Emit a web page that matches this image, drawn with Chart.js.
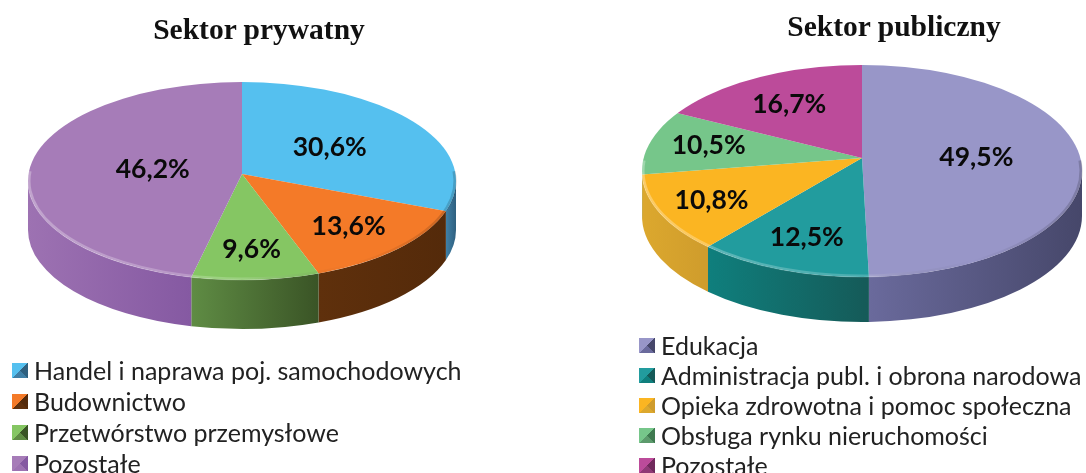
<!DOCTYPE html>
<html lang="pl">
<head>
<meta charset="utf-8">
<title>Sektor prywatny i publiczny</title>
<script src="https://cdn.jsdelivr.net/npm/chart.js@4/dist/chart.umd.min.js"></script>
<style>
    html, body { margin: 0; padding: 0; background: #fff; overflow: hidden; }
    #page { position: relative; width: 1086px; height: 473px; overflow: hidden; }
    canvas { position: absolute; top: 0; }
    .title { position: absolute; font: bold 29.5px "Liberation Serif", serif; color: #111; white-space: nowrap; transform: translateX(-50%); }
    .legend { position: absolute; font: 25px Lato, sans-serif; color: #222; white-space: nowrap; }
    .legend div { position: relative; padding-left: 22px; }
    .legend i { position: absolute; left: 0; top: 8px; width: 16px; height: 15px; }
</style>
</head>
<body>
<div id="page">
    <canvas id="privateChart" width="543" height="473" style="left:0"></canvas>
    <canvas id="publicChart" width="543" height="473" style="left:543px"></canvas>
</div>
<script>
// Sektor prywatny
const privateTitle = 'Sektor prywatny';
const privateLabels = ['Handel i naprawa poj. samochodowych', 'Budownictwo', 'Przetwórstwo przemysłowe', 'Pozostałe'];
const privateValues = [30.6, 13.6, 9.6, 46.2];
const privateColors = ['#55c0ef', '#f47a28', '#85c663', '#a67cb8'];
const privateWalls = [['#3f7fa6', '#2f607f'], ['#5f300c', '#542a0a'], ['#5f8c44', '#3a5426'], ['#9d72b2', '#8559a2']];

// Sektor publiczny
const publicTitle = 'Sektor publiczny';
const publicLabels = ['Edukacja', 'Administracja publ. i obrona narodowa', 'Opieka zdrowotna i pomoc społeczna', 'Obsługa rynku nieruchomości', 'Pozostałe'];
const publicValues = [49.5, 12.5, 10.8, 10.5, 16.7];
const publicColors = ['#9896c8', '#229c9e', '#fbb522', '#76c68a', '#bc4b9a'];
const publicWalls = [['#6a6a9c', '#46476a'], ['#0f7f7d', '#155a58'], ['#dca82e', '#cf9c2c'], ['#5c9a6c', '#3f7a50'], ['#8f3a76', '#702a5c']];

function formatValue(v) {
    return v.toFixed(1).replace('.', ',') + '%';
}

// where a slice edge at canvas angle a meets the rim of the top ellipse
function rimAngle(a, s) {
    const dx = Math.cos(a);
    const dy = Math.sin(a) * (Math.sin(a) < 0 ? s.kTop : s.kBottom);
    const oy = s.apexY - s.ellipseY;
    const A = dx * dx / (s.r * s.r) + dy * dy / (s.ry * s.ry);
    const B = 2 * oy * dy / (s.ry * s.ry);
    const C = oy * oy / (s.ry * s.ry) - 1;
    const d = (-B + Math.sqrt(B * B - 4 * A * C)) / (2 * A);
    let t = Math.atan2((oy + d * dy) / s.ry, d * dx / s.r);
    if (t < -Math.PI / 2) t += Math.PI * 2;
    return t;
}

function drawWalls(ctx, arcs, s, cx) {
    arcs.forEach((arc, i) => {
        const t0 = Math.max(rimAngle(arc.startAngle, s), 0);
        const t1 = Math.min(rimAngle(arc.endAngle, s), Math.PI);
        if (t1 <= t0) return;
        const x0 = cx + Math.cos(t0) * s.r;
        const x1 = cx + Math.cos(t1) * s.r;
        const grad = ctx.createLinearGradient(x1, 0, x0, 0);
        grad.addColorStop(0, s.walls[i][0]);
        grad.addColorStop(1, s.walls[i][1]);
        ctx.beginPath();
        ctx.ellipse(cx, s.ellipseY, s.r, s.ry, 0, t0, t1);
        ctx.ellipse(cx, s.ellipseY + s.depth, s.r, s.ry, 0, t1, t0, true);
        ctx.closePath();
        ctx.fillStyle = grad;
        ctx.fill();
    });
}

// the top face: one half per scale, so the apex sits above the middle of the ellipse
function drawTop(ctx, arcs, s, cx, cy) {
    [[s.apexY - 200, s.kTop], [s.apexY, s.kBottom]].forEach(([top, k]) => {
        ctx.save();
        ctx.beginPath();
        ctx.ellipse(cx, s.ellipseY, s.r, s.ry, 0, 0, Math.PI * 2);
        ctx.clip();
        ctx.beginPath();
        ctx.rect(0, top, ctx.canvas.width, 200);
        ctx.clip();
        ctx.translate(cx, s.apexY);
        ctx.scale(1.15, 1.15 * k);
        ctx.translate(-cx, -cy);
        arcs.forEach(arc => arc.draw(ctx));
        ctx.restore();
    });
}

function drawRim(ctx, s, cx) {
    const grad = ctx.createLinearGradient(cx - s.r, 0, cx + s.r, 0);
    grad.addColorStop(0, 'rgba(255,255,255,0.3)');
    grad.addColorStop(0.5, 'rgba(255,255,255,0.18)');
    grad.addColorStop(0.75, 'rgba(0,0,0,0)');
    grad.addColorStop(1, 'rgba(0,0,0,0.18)');
    ctx.beginPath();
    ctx.ellipse(cx, s.ellipseY, s.r - 1, s.ry - 1, 0, -0.1, Math.PI + 0.1);
    ctx.strokeStyle = grad;
    ctx.lineWidth = 3;
    ctx.stroke();
}

const pie3d = {
    id: 'pie3d',
    beforeDatasetsDraw(chart) {
        const s = chart.options.plugins.pie3d;
        const ctx = chart.ctx;
        const arcs = chart.getDatasetMeta(0).data;
        const cx = arcs[0].x, cy = arcs[0].y;
        s.r = arcs[0].outerRadius;
        s.kTop = (s.apexY - s.ellipseY + s.ry) / s.r;
        s.kBottom = (s.ellipseY + s.ry - s.apexY) / s.r;
        drawWalls(ctx, arcs, s, cx);
        drawTop(ctx, arcs, s, cx, cy);
        drawRim(ctx, s, cx);

        ctx.font = s.labelFont;
        ctx.fillStyle = '#0a0a0a';
        ctx.textAlign = 'center';
        ctx.textBaseline = 'middle';
        arcs.forEach((arc, i) => {
            const mid = (arc.startAngle + arc.endAngle) / 2;
            const k = Math.sin(mid) < 0 ? s.kTop : s.kBottom;
            const d = s.r * s.labelAt[i];
            ctx.fillText(formatValue(chart.data.datasets[0].data[i]), cx + Math.cos(mid) * d, s.apexY + Math.sin(mid) * d * k);
        });
        return false;
    }
};

function makePie(id, labels, values, colors, walls, padding, shape) {
    new Chart(document.getElementById(id), {
        type: 'pie',
        data: { labels: labels, datasets: [{ data: values, backgroundColor: colors, borderWidth: 0 }] },
        options: {
            responsive: false,
            animation: false,
            layout: { padding: padding },
            plugins: {
                legend: { display: false },
                tooltip: { enabled: false },
                pie3d: Object.assign({ walls: walls, labelFont: 'bold 26.5px Lato, sans-serif' }, shape)
            }
        },
        plugins: [pie3d]
    });
}

function addTitle(text, x, y) {
    const el = document.createElement('div');
    el.className = 'title';
    el.textContent = text;
    el.style.left = x + 'px';
    el.style.top = y + 'px';
    document.getElementById('page').appendChild(el);
}

function addLegend(labels, colors, walls, x, y, rowHeight) {
    const box = document.createElement('div');
    box.className = 'legend';
    box.style.left = x + 'px';
    box.style.top = y + 'px';
    labels.forEach((label, i) => {
        const row = document.createElement('div');
        row.style.height = rowHeight + 'px';
        row.style.lineHeight = rowHeight + 'px';
        const swatch = document.createElement('i');
        // small bevelled box like the legend keys of the original
        swatch.style.background = `conic-gradient(from 45deg, ${walls[i][1]} 0 25%, ${walls[i][0]} 25% 50%, ${colors[i]} 50% 100%)`;
        row.appendChild(swatch);
        row.appendChild(document.createTextNode(label));
        box.appendChild(row);
    });
    document.getElementById('page').appendChild(box);
}

makePie('privateChart', privateLabels, privateValues, privateColors, privateWalls,
    { left: 28, right: 87, top: 22, bottom: 23 },
    { apexY: 174, ellipseY: 181, ry: 99, depth: 49, labelAt: [0.5, 0.7, 0.71, 0.42] });
makePie('publicChart', publicLabels, publicValues, publicColors, publicWalls,
    { left: 99, right: 4, top: 16, bottom: 17 },
    { apexY: 158, ellipseY: 171, ry: 106, depth: 45, labelAt: [0.52, 0.71, 0.77, 0.71, 0.66] });

addTitle(privateTitle, 259, 13);
addTitle(publicTitle, 894, 10);
addLegend(privateLabels, privateColors, privateWalls, 12, 355, 31);
addLegend(publicLabels, publicColors, publicWalls, 639, 330, 30);
</script>
</body>
</html>
